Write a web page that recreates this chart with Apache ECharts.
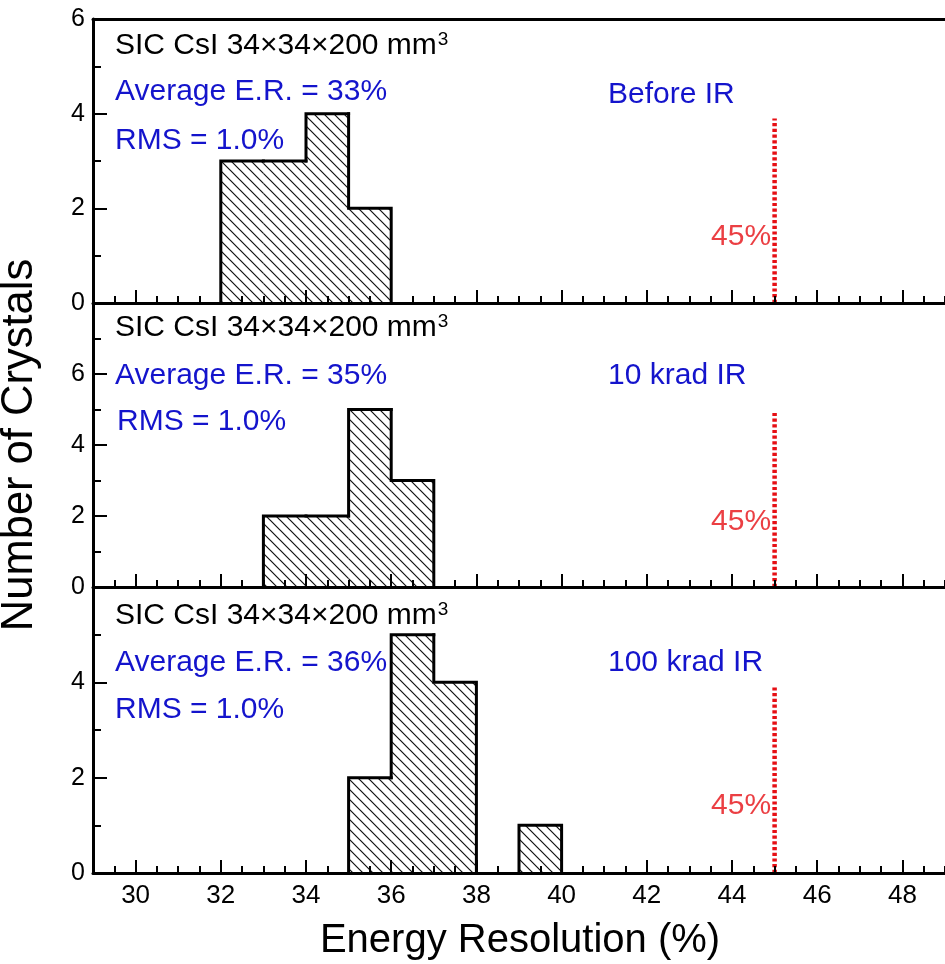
<!DOCTYPE html>
<html><head><meta charset="utf-8">
<script src="https://cdn.jsdelivr.net/npm/echarts@6/dist/echarts.min.js"></script>
<style>html,body{margin:0;padding:0;background:#fff}#c{width:945px;height:964px}</style>
</head><body><div id="c"></div>
<script>
// ---------- data ----------
const xMin = 29, xMax = 49;
const xTickLabels = [30, 32, 34, 36, 38, 40, 42, 44, 46, 48];
const binWidth = 1;
const beforeBins = [32, 33, 34, 35];
const beforeCounts = [3, 3, 4, 2];
const krad10Bins = [33, 34, 35, 36];
const krad10Counts = [2, 2, 5, 3];
const krad100Bins = [35, 36, 37, 39];
const krad100Counts = [2, 5, 4, 1];
const limitValue = 45;
const limitLineTops = [3.9, 4.9, 3.9];
const limitLabelY = [1.39, 1.83, 1.41];
const yMaxes = [6, 8, 6];
const panelLabels = ['Before IR', '10 krad IR', '100 krad IR'];
const averageER = ['33%', '35%', '36%'];
const rmsValues = ['1.0%', '1.0%', '1.0%'];

// ---------- layout / style ----------
const FONT = "'Liberation Sans', Arial, Helvetica, sans-serif";
const BLUE = '#1414cc';
const RED = '#e60f14';
const TXT = 30;
const grids = [
  { left: 93, top: 19, width: 853, height: 284 },
  { left: 93, top: 303, width: 853, height: 284 },
  { left: 93, top: 587, width: 853, height: 286 }
];
const titleDy = [27, 25, 29];
const avgDy = [73, 73, 76];
const rmsDy = [122, 119, 123];
const rmsX = [115, 117, 115];
const rightDy = [76, 73, 76];

const binsAll = [beforeBins, krad10Bins, krad100Bins];
const countsAll = [beforeCounts, krad10Counts, krad100Counts];

// hatch pattern
const pc = document.createElement('canvas');
pc.width = 10; pc.height = 10;
const g = pc.getContext('2d');
g.strokeStyle = '#111'; g.lineWidth = 1.2;
g.beginPath();
g.moveTo(-2, -2); g.lineTo(12, 12);
g.moveTo(-2, 8); g.lineTo(2, 12);
g.moveTo(8, -2); g.lineTo(12, 2);
g.stroke();

function makeRender(lefts, counts) {
  return function (params, api) {
    const i = params.dataIndex;
    const l = api.value(0), c = api.value(1);
    const p0 = api.coord([l, 0]), p1 = api.coord([l + binWidth, c]);
    const prevAdj = i > 0 && lefts[i - 1] + binWidth === l;
    const nextAdj = i < lefts.length - 1 && lefts[i + 1] === l + binWidth;
    const startY = prevAdj ? counts[i - 1] : 0;
    const pts = [api.coord([l, startY]), api.coord([l, c]), api.coord([l + binWidth, c])];
    if (!nextAdj) pts.push(api.coord([l + binWidth, 0]));
    return {
      type: 'group', children: [
        { type: 'rect', shape: { x: p0[0], y: p1[1], width: p1[0] - p0[0], height: p0[1] - p1[1] },
          style: { fill: { image: pc, repeat: 'repeat' } } },
        { type: 'polyline', shape: { points: pts },
          style: { stroke: '#000', lineWidth: 3, fill: null, lineJoin: 'miter', lineCap: 'square' } }
      ]
    };
  };
}

const minorTicks = [];
for (let v = xMin; v <= xMax + 1e-9; v += 0.5) minorTicks.push(v);

const lineStyleAxis = { color: '#000', width: 3 };
const xAxes = [], yAxes = [], series = [], graphics = [];
for (let i = 0; i < 3; i++) {
  xAxes.push({
    gridIndex: i, type: 'value', min: xMin, max: xMax, position: 'bottom', z: 10,
    axisLine: { show: true, onZero: false, lineStyle: lineStyleAxis },
    axisTick: { show: true, inside: true, length: 13, customValues: xTickLabels, lineStyle: { color: '#000', width: 2 } },
    axisLabel: { show: i === 2, customValues: xTickLabels, fontSize: 26, margin: 10, color: '#000', fontFamily: FONT },
    splitLine: { show: false }
  });
  xAxes.push({
    gridIndex: i, type: 'value', min: xMin, max: xMax, position: 'bottom', z: 10,
    axisLine: { show: false, onZero: false },
    axisTick: { show: true, inside: true, length: 7, customValues: minorTicks, lineStyle: { color: '#000', width: 2 } },
    axisLabel: { show: false },
    splitLine: { show: false }
  });
  const ymax = yMaxes[i];
  yAxes.push({
    gridIndex: i, type: 'value', min: 0, max: ymax, interval: 2, z: 10,
    axisLine: { show: true, onZero: false, lineStyle: lineStyleAxis },
    axisTick: { show: true, inside: true, length: 14, lineStyle: { color: '#000', width: 2 } },
    minorTick: { show: true, splitNumber: 2, length: 8, lineStyle: { color: '#000', width: 2 } },
    axisLabel: { formatter: v => (i > 0 && v === ymax) ? '' : String(v), fontSize: 25, margin: 8, color: '#000', fontFamily: FONT },
    splitLine: { show: false }, minorSplitLine: { show: false }
  });

  const xi = i * 2;
  series.push({
    type: 'custom', xAxisIndex: xi, yAxisIndex: i, z: 3,
    renderItem: makeRender(binsAll[i], countsAll[i]),
    data: binsAll[i].map((b, k) => [b, countsAll[i][k]]),
    silent: true
  });
  series.push({
    type: 'line', xAxisIndex: xi, yAxisIndex: i, z: 5, symbol: 'none', silent: true,
    data: [[limitValue, 0], [limitValue, limitLineTops[i]]],
    lineStyle: { color: RED, width: 4.5, type: [3.2, 2.5], cap: 'butt' }
  });
  series.push({
    type: 'scatter', xAxisIndex: xi, yAxisIndex: i, z: 6, symbolSize: 1, silent: true,
    itemStyle: { color: 'rgba(0,0,0,0)' },
    data: [[limitValue, limitLabelY[i]]],
    label: { show: true, position: 'left', distance: 3, formatter: limitValue + '%', color: RED, fontSize: TXT, fontFamily: FONT }
  });

  const T = grids[i].top;
  graphics.push({
    type: 'text', x: 115, y: T + titleDy[i],
    style: {
      text: '{a|SIC CsI 34×34×200 mm}{s|3}', verticalAlign: 'middle', align: 'left',
      rich: {
        a: { fontSize: TXT, fontFamily: FONT, fill: '#000', lineHeight: 31 },
        s: { fontSize: 19, fontFamily: FONT, fill: '#000', verticalAlign: 'top', padding: [0, 0, 0, 1] }
      }
    }
  });
  graphics.push({
    type: 'text', x: 115, y: T + avgDy[i],
    style: { text: 'Average E.R. = ' + averageER[i], fill: BLUE, fontSize: TXT, fontFamily: FONT, verticalAlign: 'middle', align: 'left' }
  });
  graphics.push({
    type: 'text', x: rmsX[i], y: T + rmsDy[i],
    style: { text: 'RMS = ' + rmsValues[i], fill: BLUE, fontSize: TXT, fontFamily: FONT, verticalAlign: 'middle', align: 'left' }
  });
  graphics.push({
    type: 'text', x: 608, y: T + rightDy[i],
    style: { text: panelLabels[i], fill: BLUE, fontSize: TXT, fontFamily: FONT, verticalAlign: 'middle', align: 'left' }
  });
}
// top border of top panel
xAxes.push({
  gridIndex: 0, type: 'value', min: xMin, max: xMax, position: 'top', z: 10,
  axisLine: { show: true, onZero: false, lineStyle: lineStyleAxis },
  axisTick: { show: false }, axisLabel: { show: false }, splitLine: { show: false }
});

graphics.push({
  type: 'text', x: 520, y: 941,
  style: { text: 'Energy Resolution (%)', fill: '#000', fontSize: 40, fontFamily: FONT, align: 'center', verticalAlign: 'middle' }
});
graphics.push({
  type: 'text', x: 20, y: 445, rotation: Math.PI / 2,
  style: { text: 'Number of Crystals', fill: '#000', fontSize: 43.5, fontFamily: FONT, align: 'center', verticalAlign: 'middle' }
});

const chart = echarts.init(document.getElementById('c'), null, { renderer: 'canvas' });
chart.setOption({
  animation: false,
  backgroundColor: '#fff',
  grid: grids,
  xAxis: xAxes,
  yAxis: yAxes,
  series: series,
  graphic: graphics
});
</script>
</body></html>
